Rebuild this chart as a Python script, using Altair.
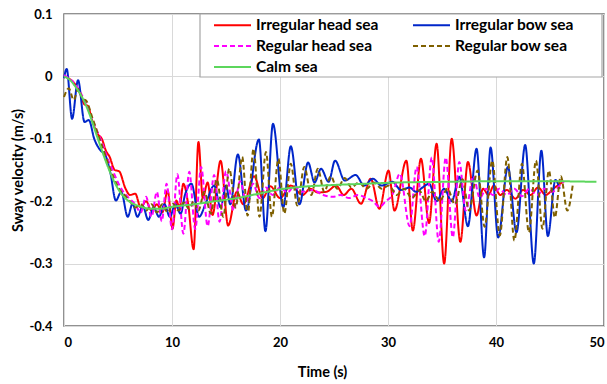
import altair as alt
import pandas as pd

series_names = ["Irregular head sea", "Irregular bow sea", "Regular head sea", "Regular bow sea", "Calm sea"]
series_colors = ["#FF0000", "#0026CA", "#FF00FF", "#7F6000", "#5CD65C"]
series_dash = [[1, 0], [1, 0], [5, 3], [5, 3], [1, 0]]
series_width = [2, 2, 2, 2, 3]

ih_t = [0, 0.5, 1.0, 1.5, 1.9, 2.2, 2.6, 3.1, 3.5, 3.9, 4.2, 4.7, 5.1, 5.7, 6.1, 6.6, 7.1, 7.6, 8.1, 8.6,
        9.1, 9.6, 10.05, 10.4, 10.7, 11.05, 11.5, 12.0, 12.45, 12.85, 13.3, 13.75, 14.5, 15.2, 16.0, 16.6,
        17.6, 18.4, 19.1, 20.0, 21.0, 22.1, 22.8, 23.5, 24.3, 25.2, 25.9, 26.6, 27.5, 28.4, 29.2, 30.05,
        30.6, 31.7, 32.3, 33.05, 33.8, 34.5, 35.2, 35.9, 36.7, 37.4, 38.2, 38.8, 39.3, 39.8, 40.4, 41.0,
        41.8, 42.5, 43.2, 43.9, 44.6, 45.3, 46.2]
ih_v = [0, -0.004, -0.012, -0.028, -0.045, -0.047, -0.07, -0.092, -0.1, -0.12, -0.128, -0.15, -0.152,
        -0.18, -0.19, -0.188, -0.21, -0.2, -0.215, -0.205, -0.218, -0.183, -0.244, -0.199, -0.21, -0.172,
        -0.205, -0.277, -0.105, -0.195, -0.17, -0.222, -0.135, -0.239, -0.185, -0.205, -0.16, -0.195,
        -0.176, -0.195, -0.175, -0.19, -0.18, -0.186, -0.185, -0.175, -0.19, -0.18, -0.204, -0.164,
        -0.212, -0.151, -0.215, -0.135, -0.247, -0.132, -0.235, -0.108, -0.30, -0.10, -0.265, -0.137,
        -0.223, -0.18, -0.19, -0.175, -0.19, -0.182, -0.196, -0.182, -0.19, -0.178, -0.19, -0.18, -0.169]

ib_t = [0, 0.25, 0.75, 1.3, 1.9, 2.3, 2.8, 3.4, 3.8, 4.3, 4.8, 5.3, 5.9, 6.35, 6.8, 7.3, 7.8, 8.3, 8.8,
        9.3, 9.8, 10.3, 10.8, 11.2, 11.8, 12.5, 13.2, 13.9, 14.5, 15.0, 15.4, 16.1, 16.85, 18.05, 18.65,
        19.35, 20.3, 21.0, 21.8, 22.6, 23.2, 23.8, 24.5, 25.1, 26.0, 27.0, 27.8, 28.6, 29.4, 30.4, 31.2,
        32.0, 32.6, 33.2, 33.8, 34.5, 35.2, 35.9, 36.6, 37.4, 38.2, 38.9, 39.5, 40.2, 41.1, 41.9, 42.7,
        43.5, 44.2, 44.8, 45.5, 45.9]
ib_v = [-0.003, 0.012, -0.068, -0.006, -0.073, -0.07, -0.1, -0.119, -0.125, -0.155, -0.199, -0.185,
        -0.225, -0.204, -0.225, -0.208, -0.23, -0.21, -0.225, -0.205, -0.225, -0.205, -0.22, -0.19, -0.172,
        -0.225, -0.2, -0.175, -0.21, -0.175, -0.205, -0.125, -0.215, -0.101, -0.248, -0.076, -0.21, -0.112,
        -0.205, -0.138, -0.17, -0.148, -0.169, -0.135, -0.167, -0.158, -0.175, -0.164, -0.175, -0.169,
        -0.182, -0.178, -0.185, -0.178, -0.172, -0.2, -0.18, -0.2, -0.161, -0.24, -0.116, -0.29, -0.114,
        -0.258, -0.145, -0.25, -0.11, -0.30, -0.119, -0.256, -0.166, -0.18]

rh_t = [0, 1.0, 2.0, 3.0, 3.5, 4.0, 4.5, 5.0, 5.5, 6.0, 6.6, 7.1, 7.6, 8.1, 8.6, 9.05, 9.5, 10.0, 10.5,
        11.05, 11.6, 12.15, 12.7, 13.3, 13.9, 14.4, 15.0, 15.7, 16.3, 16.9, 17.5, 18.1, 18.7, 19.3, 20.0,
        20.7, 21.3, 22.0, 23.0, 24.0, 24.9, 25.6, 26.4, 27.2, 28.0, 28.6, 29.2, 29.8, 30.4, 31.1, 32.0,
        32.65, 33.4, 34.05, 34.7, 35.35, 36.0, 36.6, 37.2, 37.9, 38.5, 39.1, 39.7, 40.3, 41.0, 41.7, 42.4,
        43.1, 43.8, 44.5, 45.2, 45.9, 46.3]
rh_v = [0.002, -0.012, -0.042, -0.085, -0.105, -0.13, -0.15, -0.17, -0.185, -0.195, -0.205, -0.218,
        -0.193, -0.225, -0.185, -0.232, -0.172, -0.245, -0.157, -0.252, -0.153, -0.245, -0.145, -0.24,
        -0.158, -0.233, -0.152, -0.215, -0.168, -0.2, -0.172, -0.195, -0.178, -0.19, -0.178, -0.186,
        -0.176, -0.185, -0.182, -0.19, -0.193, -0.19, -0.195, -0.19, -0.195, -0.2, -0.209, -0.2, -0.19,
        -0.156, -0.24, -0.145, -0.256, -0.13, -0.265, -0.13, -0.258, -0.137, -0.215, -0.16, -0.195, -0.18,
        -0.19, -0.18, -0.19, -0.18, -0.192, -0.18, -0.19, -0.18, -0.185, -0.175, -0.168]

rb_t = [0, 0.45, 0.9, 1.3, 1.7, 2.1, 2.6, 3.1, 3.6, 4.1, 4.6, 5.1, 5.6, 6.1, 6.6, 7.1, 7.6, 8.1, 8.6, 9.1,
        9.6, 10.1, 10.6, 11.1, 11.6, 12.0, 12.45, 13.0, 13.6, 14.15, 14.75, 15.3, 15.9, 16.5, 17.0, 17.55,
        18.1, 18.7, 19.25, 19.85, 20.4, 21.0, 21.6, 22.25, 22.9, 23.5, 24.1, 24.7, 25.3, 26.0, 26.6, 27.3,
        28.0, 28.7, 29.4, 30.1, 30.8, 31.5, 32.2, 32.9, 33.5, 34.1, 34.8, 35.5, 36.2, 36.9, 37.5, 38.3,
        38.95, 39.65, 40.35, 41.05, 41.7, 42.4, 43.05, 43.7, 44.3, 44.9, 45.45, 46.0, 46.6, 47.1]
rb_v = [-0.033, -0.019, -0.038, -0.02, -0.035, -0.04, -0.065, -0.09, -0.115, -0.14, -0.162, -0.18, -0.19,
        -0.2, -0.21, -0.205, -0.215, -0.205, -0.218, -0.205, -0.218, -0.204, -0.215, -0.202, -0.213, -0.2,
        -0.215, -0.185, -0.22, -0.165, -0.225, -0.148, -0.21, -0.129, -0.223, -0.116, -0.225, -0.121,
        -0.225, -0.132, -0.22, -0.14, -0.207, -0.145, -0.19, -0.148, -0.185, -0.16, -0.18, -0.163, -0.178,
        -0.17, -0.18, -0.17, -0.18, -0.175, -0.19, -0.18, -0.195, -0.183, -0.2, -0.185, -0.2, -0.18,
        -0.205, -0.165, -0.215, -0.151, -0.241, -0.135, -0.255, -0.129, -0.263, -0.14, -0.25, -0.135,
        -0.244, -0.151, -0.226, -0.16, -0.215, -0.175]

calm_t = [0, 0.5, 1.0, 1.5, 2.0, 2.5, 3.0, 3.5, 4.0, 4.5, 5.0, 5.5, 6.0, 7.0, 8.0, 9.0, 10.0, 12.0, 14.0,
          16.0, 18.0, 20.0, 22.0, 25.0, 28.0, 31.0, 35.0, 40.0, 45.0, 49.3]
calm_v = [0, -0.005, -0.015, -0.028, -0.045, -0.067, -0.093, -0.118, -0.142, -0.163, -0.18, -0.192, -0.2,
          -0.208, -0.212, -0.212, -0.209, -0.205, -0.2, -0.195, -0.188, -0.181, -0.177, -0.174, -0.172,
          -0.17, -0.169, -0.168, -0.168, -0.169]

x_ticks = [0, 10, 20, 30, 40, 50]
y_ticks = [-0.4, -0.3, -0.2, -0.1, 0, 0.1]

rows = []
for name, ts, vs in zip(series_names, [ih_t, ib_t, rh_t, rb_t, calm_t], [ih_v, ib_v, rh_v, rb_v, calm_v]):
    assert len(ts) == len(vs), name
    for i, (t, v) in enumerate(zip(ts, vs)):
        rows.append({"series": name, "t": t, "v": v, "ord": i})
df = pd.DataFrame(rows)

FONT = "Lato"

legend = alt.Legend(
    title=None, orient="none", legendX=149, legendY=3, columns=2, direction="horizontal",
    columnPadding=33, rowPadding=4, clipHeight=16,
    symbolType="stroke", symbolSize=1369, symbolStrokeWidth=2, labelFont=FONT, labelFontWeight="bold",
    labelFontSize=15.5, labelColor="black", labelOffset=4, labelLimit=0,
)

box = alt.Chart(pd.DataFrame({"k": [0]})).mark_rect(
    fill="white", stroke="#a6a6a6", strokeWidth=1.2
).encode(x=alt.value(136), x2=alt.value(538), y=alt.value(0), y2=alt.value(63))

lines = alt.Chart(df).mark_line(interpolate="monotone").encode(
    x=alt.X("t:Q", scale=alt.Scale(domain=[0, 50], nice=False),
            axis=alt.Axis(values=x_ticks, title="Time (s)", titleX=258, titleY=46,
                          titleBaseline="middle", format="d")),
    y=alt.Y("v:Q", scale=alt.Scale(domain=[-0.4, 0.1], nice=False),
            axis=alt.Axis(values=y_ticks, title="Sway velocity (m/s)", titleX=-46, titleY=156,
                          titleBaseline="middle", titleAlign="center",
                          labelExpr="abs(datum.value) < 1e-9 ? '0' : (datum.value < 0 ? '-' : '') + format(abs(datum.value), '.1f')")),
    color=alt.Color("series:N", scale=alt.Scale(domain=series_names, range=series_colors), legend=legend),
    strokeDash=alt.StrokeDash("series:N", scale=alt.Scale(domain=series_names, range=series_dash), legend=legend),
    strokeWidth=alt.StrokeWidth("series:N", scale=alt.Scale(domain=series_names, range=series_width), legend=None),
    order="ord:Q",
)

chart = alt.layer(box, lines).properties(
    width=540, height=312,
    autosize=alt.AutoSizeParams(type="none"),
    padding={"left": 64, "top": 14, "right": 3, "bottom": 58},
    background="white",
).configure_view(
    stroke="#6e6e6e", strokeWidth=1.5
).configure_axis(
    grid=True, gridColor="#d9d9d9", gridWidth=1, domain=False, ticks=False,
    labelFont=FONT, labelFontWeight="bold", labelFontSize=13, labelColor="black",
    titleFont=FONT, titleFontWeight="bold", titleFontSize=14.5, titleColor="black",
).configure_axisX(
    labelPadding=10
).configure_axisY(
    labelPadding=12
)

chart.save("out.html", embed_options={"renderer": "svg", "actions": False})
